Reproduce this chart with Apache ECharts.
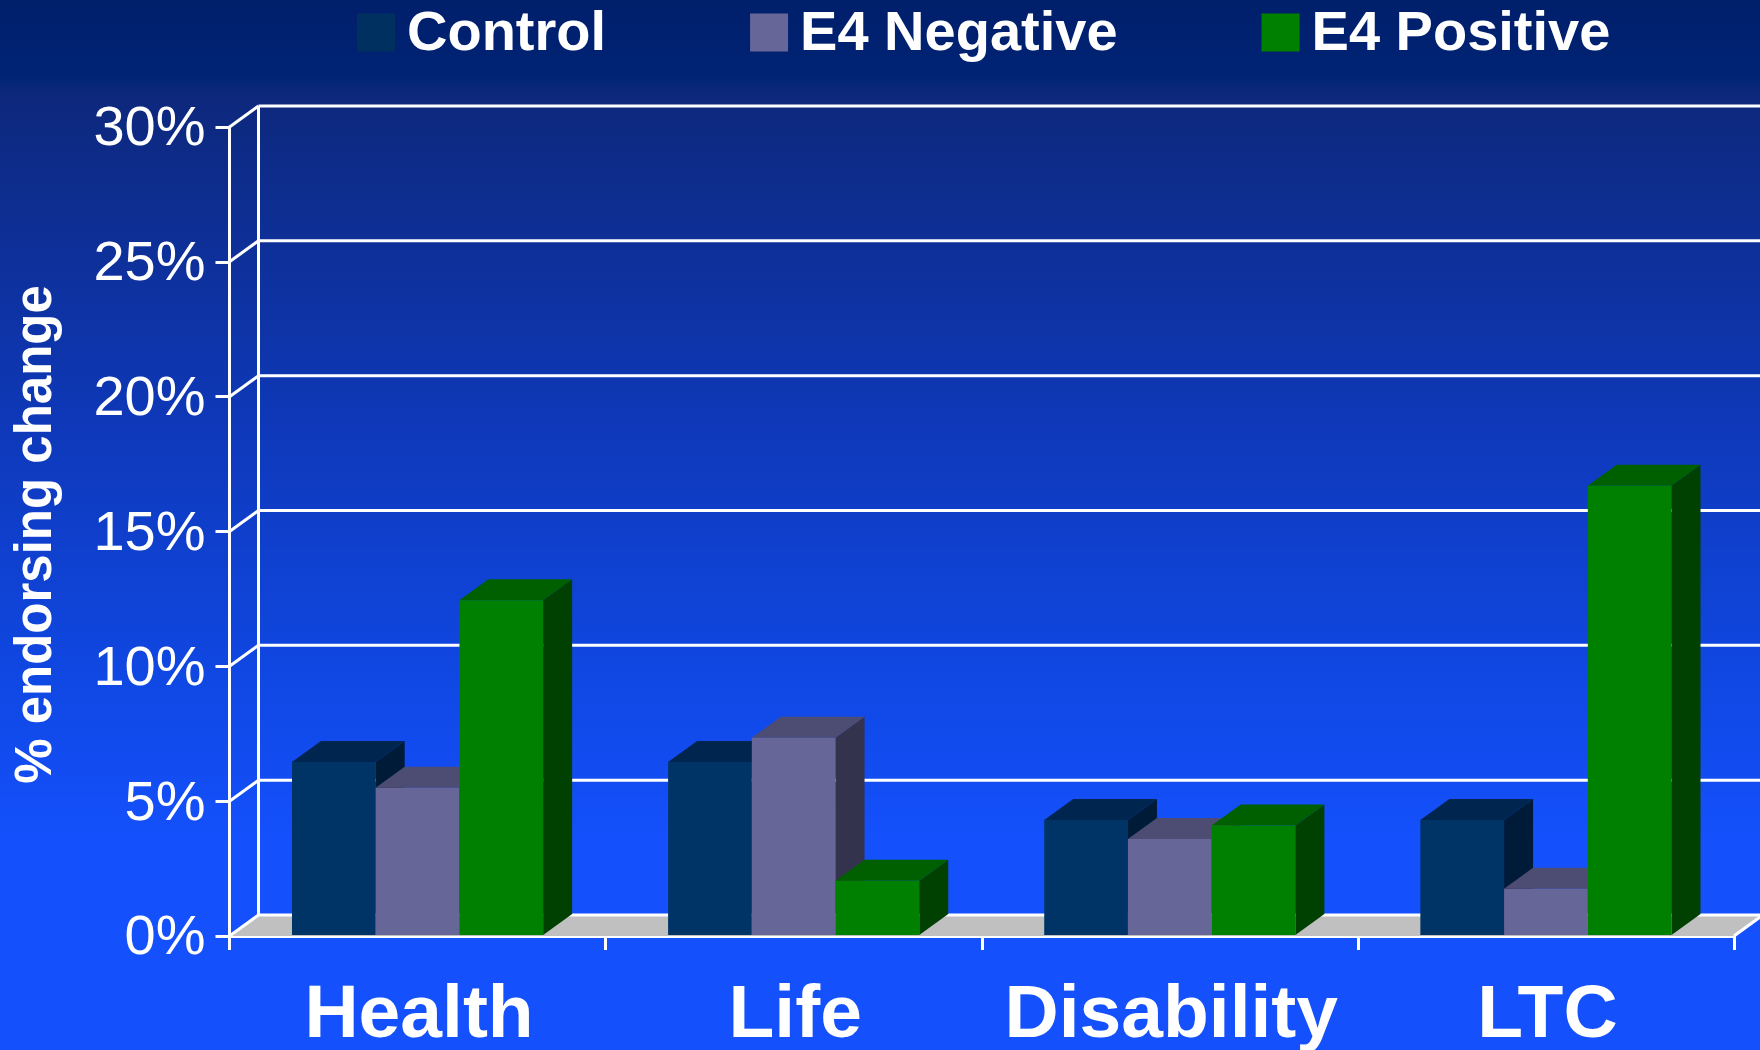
<!DOCTYPE html>
<html>
<head>
<meta charset="utf-8">
<style>
  html, body { margin: 0; padding: 0; background: #1450fc; }
  #chart { width: 1760px; height: 1050px; }
</style>
<script src="https://cdn.jsdelivr.net/npm/echarts@6/dist/echarts.min.js"></script>
</head>
<body>
<div id="chart"></div>
<script>
const categories = ['Health', 'Life', 'Disability', 'LTC']
const control = [6.45, 6.45, 4.3, 4.3]
const e4Negative = [5.5, 7.35, 3.6, 1.75]
const e4Positive = [12.45, 2.05, 4.1, 16.7]
const yTicks = [0, 5, 10, 15, 20, 25, 30]

// depth of the fake 3d box, in pixels
const depthX = 29
const depthY = -21
const barShare = 0.2226

function poly(points, fill, z2) {
  return { type: 'polygon', shape: { points }, style: { fill }, z2 }
}

function bar3d(slot, front, top, side) {
  return (params, api) => {
    const cat = api.value(0)
    const head = api.coord([cat, api.value(1)])
    const foot = api.coord([cat, 0])
    const w = api.size([1, 0])[0] * barShare
    const l = head[0] + (slot - 1.5) * w
    const r = l + w
    const t = head[1]
    const b = foot[1] - 1
    return {
      type: 'group',
      children: [
        poly([[r, t], [r + depthX, t + depthY], [r + depthX, b + depthY], [r, b]], side),
        poly([[l, t], [l + depthX, t + depthY], [r + depthX, t + depthY], [r, t]], top),
        poly([[l, t], [r, t], [r, b], [l, b]], front),
      ],
    }
  }
}

function line(x1, y1, x2, y2) {
  return {
    type: 'line',
    shape: { x1, y1, x2, y2 },
    style: { stroke: '#fff', lineWidth: 3 },
  }
}

function wallLine(params, api) {
  const g = params.coordSys
  const y = api.coord([0, api.value(1)])[1]
  const kids = [
    line(g.x, y, g.x + depthX, y + depthY),
    line(g.x + depthX, y + depthY, g.x + g.width + depthX, y + depthY),
  ]
  if (api.value(1) === 0) {
    kids.unshift(poly([
      [g.x, y], [g.x + depthX, y + depthY],
      [g.x + g.width + depthX, y + depthY], [g.x + g.width, y],
    ], '#c0c0c0'))
    kids.push(line(g.x + g.width, y, g.x + g.width + depthX, y + depthY))
    kids.push(line(g.x + depthX, y + depthY, g.x + depthX, g.y + depthY))
  }
  return { type: 'group', children: kids }
}

const chart = echarts.init(document.getElementById('chart'))
chart.setOption({
  animation: false,
  backgroundColor: {
    type: 'linear', x: 0, y: 0, x2: 0, y2: 1,
    colorStops: [
      { offset: 0, color: '#001f6b' },
      { offset: 0.07, color: '#002374' },
      { offset: 0.09, color: '#0d287c' },
      { offset: 0.4, color: '#0e38b8' },
      { offset: 0.65, color: '#1048e4' },
      { offset: 0.8, color: '#1450fc' },
      { offset: 1, color: '#1450fc' },
    ],
  },
  textStyle: { fontFamily: '"Liberation Sans", Arial, sans-serif', color: '#fff' },
  legend: {
    data: ['Control', 'E4 Negative', 'E4 Positive'],
    left: 352,
    top: 2,
    itemWidth: 38,
    itemHeight: 38,
    itemGap: 144,
    icon: 'rect',
    formatter: '{a|{name}}',
    textStyle: {
      color: '#fff',
      fontSize: 56,
      fontWeight: 'bold',
      rich: { a: { color: '#fff', fontSize: 56, fontWeight: 'bold', padding: [5, 0, 0, 7] } },
    },
    selectedMode: false,
  },
  grid: { left: 229.5, right: 26, top: 127, bottom: 114, outerBoundsMode: 'none' },
  xAxis: {
    type: 'category',
    data: categories,
    axisLine: { lineStyle: { color: '#fff', width: 3 } },
    axisTick: { show: true, length: 14, interval: 0, lineStyle: { color: '#fff', width: 3 } },
    axisLabel: { color: '#fff', fontSize: 75, fontWeight: 'bold', margin: 43, interval: 0, padding: [0, 0, 0, 3] },
    splitLine: { show: false },
  },
  yAxis: {
    type: 'value',
    min: 0,
    max: 30,
    interval: 5,
    name: '% endorsing change',
    nameLocation: 'middle',
    nameRotate: 90,
    nameGap: 167,
    nameTextStyle: { color: '#fff', fontSize: 51, fontWeight: 'bold', padding: [0, 6, 0, 0] },
    axisLine: { show: true, lineStyle: { color: '#fff', width: 3 } },
    axisTick: { show: true, length: 14, lineStyle: { color: '#fff', width: 3 } },
    axisLabel: {
      color: '#fff',
      margin: 24,
      formatter: '{a|{value}%}',
      rich: { a: { color: '#fff', fontSize: 56, padding: [6, 0, 0, 0] } },
    },
    splitLine: { show: false },
  },
  series: [
    {
      type: 'custom',
      name: 'walls',
      silent: true,
      renderItem: wallLine,
      encode: { x: 0, y: 1 },
      data: yTicks.map((v) => [0, v]),
    },
    {
      type: 'custom',
      name: 'Control',
      itemStyle: { color: '#00305f' },
      renderItem: bar3d(0, '#003366', '#00264f', '#001b38'),
      encode: { x: 0, y: 1 },
      data: control.map((v, i) => [i, v]),
    },
    {
      type: 'custom',
      name: 'E4 Negative',
      itemStyle: { color: '#666699' },
      renderItem: bar3d(1, '#666699', '#4d4d73', '#33334d'),
      encode: { x: 0, y: 1 },
      data: e4Negative.map((v, i) => [i, v]),
    },
    {
      type: 'custom',
      name: 'E4 Positive',
      itemStyle: { color: '#008000' },
      renderItem: bar3d(2, '#008000', '#006000', '#004000'),
      encode: { x: 0, y: 1 },
      data: e4Positive.map((v, i) => [i, v]),
    },
  ],
})
</script>
</body>
</html>
